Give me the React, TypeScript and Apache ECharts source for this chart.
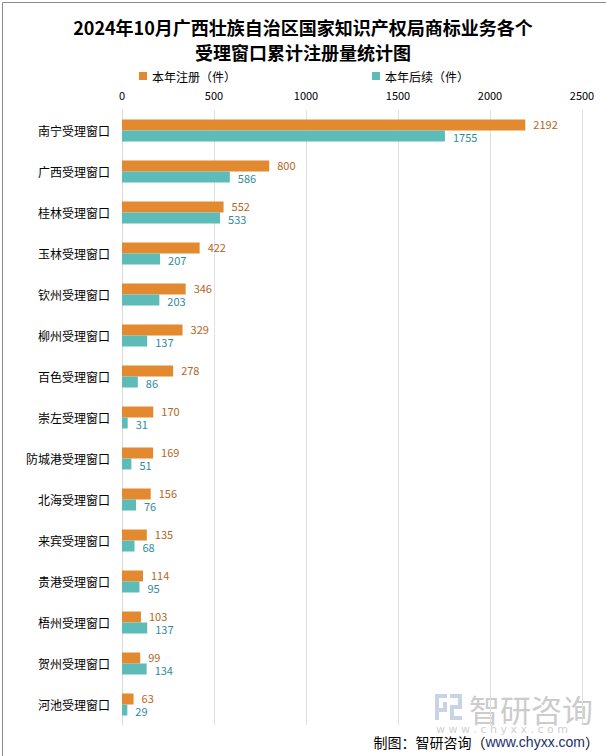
import React, { useEffect, useRef } from "react";
import * as echarts from "echarts";

const categories = [
  "南宁受理窗口", "广西受理窗口", "桂林受理窗口", "玉林受理窗口", "钦州受理窗口",
  "柳州受理窗口", "百色受理窗口", "崇左受理窗口", "防城港受理窗口", "北海受理窗口",
  "来宾受理窗口", "贵港受理窗口", "梧州受理窗口", "贺州受理窗口", "河池受理窗口",
];
const registrations = [2192, 800, 552, 422, 346, 329, 278, 170, 169, 156, 135, 114, 103, 99, 63];
const followUps = [1755, 586, 533, 207, 203, 137, 86, 31, 51, 76, 68, 95, 137, 134, 29];
const seriesNames = ["本年注册（件）", "本年后续（件）"];
const titleLines = ["2024年10月广西壮族自治区国家知识产权局商标业务各个", "受理窗口累计注册量统计图"];

export default function App() {
  const ref = useRef<HTMLDivElement>(null);
  useEffect(() => {
    const chart = echarts.init(ref.current!, null, { renderer: "svg" });
    const cjk = "'Noto Sans CJK SC', sans-serif";
    chart.setOption({
      animation: false,
      backgroundColor: "#fff",
      textStyle: { fontFamily: cjk },
      title: {
        text: titleLines.join("\n"),
        left: "center",
        top: 9,
        textStyle: { fontSize: 18, fontWeight: "bold", color: "#000", lineHeight: 25, fontFamily: cjk },
      },
      legend: {
        top: 65,
        left: 134,
        itemGap: 136,
        itemWidth: 8,
        itemHeight: 8,
        icon: "rect",
        textStyle: { fontSize: 12, color: "#000" },
        data: seriesNames,
      },
      grid: { left: 122, right: 24, top: 110, bottom: 31 },
      xAxis: {
        type: "value",
        position: "top",
        min: 0,
        max: 2500,
        interval: 500,
        axisLine: { show: false },
        axisTick: { show: false },
        axisLabel: { fontSize: 11, color: "#000", margin: 10, formatter: (v: number) => String(v) },
        splitLine: { lineStyle: { color: "#e0e0e0", width: 1 } },
      },
      yAxis: {
        type: "category",
        inverse: true,
        data: categories,
        axisLine: { show: true, lineStyle: { color: "#d9d9d9" } },
        axisTick: { show: false },
        axisLabel: { fontSize: 12, color: "#000", margin: 12 },
      },
      series: [
        {
          name: seriesNames[0],
          type: "bar",
          data: registrations,
          barWidth: 11,
          barGap: "0%",
          itemStyle: { color: "#E38A31" },
          label: { show: true, position: "right", distance: 8, offset: [0, -1], fontSize: 11, lineHeight: 10, color: "#B5651D" },
        },
        {
          name: seriesNames[1],
          type: "bar",
          data: followUps,
          barWidth: 11,
          barGap: "0%",
          itemStyle: { color: "#5DBCB7" },
          label: { show: true, position: "right", distance: 8, offset: [0, 1], fontSize: 11, lineHeight: 10, color: "#2F8C9C" },
        },
      ],
      graphic: [
        {
          type: "rect",
          left: 0,
          top: 0,
          shape: { width: 605, height: 755 },
          style: { fill: "none", stroke: "#8c8c8c", lineWidth: 1 },
          silent: true,
        },
        {
          type: "group",
          left: 435,
          top: 694,
          silent: true,
          children: [
            { type: "rect", shape: { x: 0, y: 0, width: 12, height: 4 }, style: { fill: "#c9d3e5" } },
            { type: "rect", shape: { x: 0, y: 0, width: 4, height: 26 }, style: { fill: "#c9d3e5" } },
            { type: "rect", shape: { x: 8, y: 8, width: 4, height: 8 }, style: { fill: "#c9d3e5" } },
            { type: "rect", shape: { x: 0, y: 14, width: 12, height: 4 }, style: { fill: "#c9d3e5" } },
            { type: "rect", shape: { x: 15, y: 0, width: 12, height: 4 }, style: { fill: "#c9d3e5" } },
            { type: "rect", shape: { x: 23, y: 0, width: 4, height: 14 }, style: { fill: "#c9d3e5" } },
            { type: "rect", shape: { x: 15, y: 11, width: 12, height: 4 }, style: { fill: "#c9d3e5" } },
            { type: "rect", shape: { x: 15, y: 11, width: 4, height: 15 }, style: { fill: "#c9d3e5" } },
            { type: "rect", shape: { x: 15, y: 22, width: 12, height: 4 }, style: { fill: "#c9d3e5" } },
          ],
        },
        {
          type: "text",
          left: 469,
          top: 693,
          silent: true,
          style: { text: "智研咨询", fontSize: 31, lineHeight: 28, fill: "#cccccc", fontFamily: cjk },
        },
        {
          type: "text",
          left: 436,
          top: 724,
          silent: true,
          style: { text: "w w w . c h y x x . c o m", fontSize: 11, lineHeight: 9, fill: "#d0d0d0", fontFamily: "'DejaVu Sans', sans-serif" },
        },
        {
          type: "text",
          right: 7,
          top: 735,
          silent: true,
          style: {
            text: "{a|制图：智研咨询（}{b|www.chyxx.com}{a|）}",
            rich: {
              a: { fontSize: 14, lineHeight: 15, fill: "#000", fontFamily: cjk },
              b: { fontSize: 14, lineHeight: 15, fill: "#1a2f6b", fontFamily: "'Liberation Sans', sans-serif" },
            },
          },
        },
      ],
    });
    return () => chart.dispose();
  }, []);
  return <div ref={ref} style={{ position: "fixed", left: 0, top: 0, width: 606, height: 756 }} />;
}
